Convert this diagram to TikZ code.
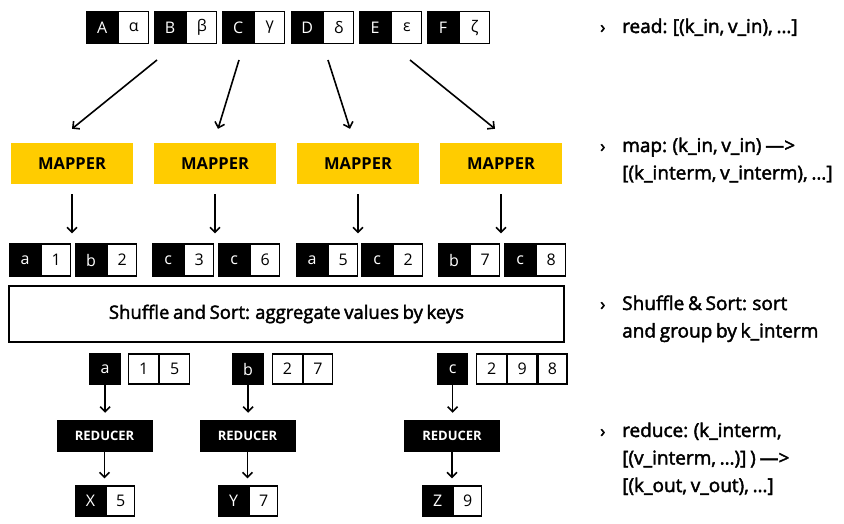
\documentclass[tikz,border=0pt]{standalone}
\usepackage{fontspec}
\setmainfont{Open Sans}
\newfontfamily\medfont{Open Sans}[FakeBold=2.2,WordSpace=0.75]
\usetikzlibrary{arrows.meta,calc}
\definecolor{mapyellow}{HTML}{FFCC00}
\newcommand\kvpair[7]{% name, x, y, key, val, key width, val width
  \node[kcell,minimum width=#6pt] (#1k) at (#2,#3) {#4};
  \node[vcell,minimum width=#7pt] (#1v) at (#1k.east) {#5};
}
\begin{document}
\begin{tikzpicture}[x=1pt,y=-1pt,
  cellfont/.style={font=\fontsize{16}{16}\selectfont},
  kcell/.style={fill=black,draw=black,line width=1.2pt,text=white,inner sep=0pt,
    minimum height=32pt,anchor=west,cellfont},
  vcell/.style={fill=white,draw=black,line width=1.2pt,text=black,inner sep=0pt,
    minimum height=32pt,anchor=west,cellfont},
  mapper/.style={fill=mapyellow,inner sep=0pt,minimum width=122pt,minimum height=41pt,
    font=\bfseries\fontsize{16.5}{16.5}\selectfont},
  reducer/.style={fill=black,text=white,inner sep=0pt,minimum width=96pt,minimum height=32pt,
    font=\bfseries\fontsize{13}{13}\selectfont},
  flow/.style={line width=1.6pt,-{Straight Barb[length=5pt,width=10pt]}},
  note/.style={anchor=base west,inner sep=0pt,font=\medfont\fontsize{19}{19}\selectfont},
  chev/.style={anchor=base west,inner sep=0pt,font=\medfont\fontsize{17}{17}\selectfont},
]
\useasboundingbox[fill=white] (0,0) rectangle (844,524);

% input pairs
\kvpair{A}{86}{27.5}{A}{α}{31}{30}
\kvpair{B}{154}{27.5}{B}{β}{31}{30}
\kvpair{C}{222}{27.5}{C}{γ}{31}{30}
\kvpair{D}{291}{27.5}{D}{δ}{31}{30}
\kvpair{E}{359}{27.5}{E}{ε}{31}{30}
\kvpair{F}{427}{27.5}{F}{ζ}{31}{30}

% mappers
\node[mapper] (m1) at (72,163.5) {MAPPER};
\node[mapper] (m2) at (215,163.5) {MAPPER};
\node[mapper] (m3) at (358,163.5) {MAPPER};
\node[mapper] (m4) at (501,163.5) {MAPPER};

% read arrows
\coordinate (s1) at (157,60);
\coordinate (s2) at (239,60);
\coordinate (s3) at (328,60);
\coordinate (s4) at (410,60);
\draw[flow] (s1) -- ([yshift=14pt]m1.north);
\draw[flow] (s2) -- ([xshift=3pt,yshift=14pt]m2.north);
\draw[flow] (s3) -- ([xshift=-8pt,yshift=14pt]m3.north);
\draw[flow] (s4) -- ([xshift=-6pt,yshift=14pt]m4.north);

% intermediate pairs
\kvpair{p1}{9}{260}{a}{1}{31}{29}
\kvpair{p2}{75}{260}{b}{2}{31}{29}
\kvpair{p3}{152}{260}{c}{3}{31}{29}
\kvpair{p4}{218}{260}{c}{6}{31}{29}
\kvpair{p5}{296}{260}{a}{5}{31}{29}
\kvpair{p6}{361}{260}{c}{2}{31}{29}
\kvpair{p7}{438}{260}{b}{7}{31}{29}
\kvpair{p8}{504}{260}{c}{8}{31}{29}

\draw[flow,shorten <=10pt,shorten >=10pt] (m1.south) -- (m1.south |- p1k.north);
\draw[flow,shorten <=10pt,shorten >=10pt] (m2.south) -- (m2.south |- p3k.north);
\draw[flow,shorten <=10pt,shorten >=10pt] (m3.south) -- (m3.south |- p5k.north);
\draw[flow,shorten <=10pt,shorten >=10pt] (m4.south) -- (m4.south |- p7k.north);

% shuffle
\node[draw=black,line width=1.8pt,fill=white,minimum width=555pt,minimum height=56pt,
  font=\medfont\fontsize{18.5}{18.5}\selectfont] (sh) at (286.5,314)
  {Shuffle and Sort: aggregate values by keys};

% grouped keys
\node[kcell,minimum width=31pt,minimum height=30pt] (ka) at (89,369) {a};
\node[vcell,minimum width=30pt,minimum height=30pt] (va1) at (128,369) {1};
\node[vcell,minimum width=30pt,minimum height=30pt] (va2) at (va1.east) {5};
\node[kcell,minimum width=31pt,minimum height=30pt] (kb) at (232,369) {b};
\node[vcell,minimum width=29.5pt,minimum height=30pt] (vb1) at (272,369) {2};
\node[vcell,minimum width=29.5pt,minimum height=30pt] (vb2) at (vb1.east) {7};
\node[kcell,minimum width=30pt,minimum height=30pt] (kc) at (437,369) {c};
\node[vcell,minimum width=30pt,minimum height=30pt] (vc1) at (476,369) {2};
\node[vcell,minimum width=29pt,minimum height=30pt] (vc2) at (vc1.east) {9};
\node[vcell,minimum width=29pt,minimum height=30pt] (vc3) at (vc2.east) {8};

% reducers
\node[reducer] (r1) at (104.5,436) {REDUCER};
\node[reducer] (r2) at (247.5,436) {REDUCER};
\node[reducer] (r3) at (452,436) {REDUCER};

% outputs
\node[kcell,minimum width=30pt,minimum height=30pt] (xk) at (75,501) {X};
\node[vcell,minimum width=28pt,minimum height=30pt] (xv) at (xk.east) {5};
\node[kcell,minimum width=30pt,minimum height=30pt] (yk) at (218,501) {Y};
\node[vcell,minimum width=28pt,minimum height=30pt] (yv) at (yk.east) {7};
\node[kcell,minimum width=30pt,minimum height=30pt] (zk) at (422,501) {Z};
\node[vcell,minimum width=28pt,minimum height=30pt] (zv) at (zk.east) {9};

\draw[flow,shorten >=7pt] (ka.south) -- (ka.south |- r1.north);
\draw[flow,shorten >=7pt] (kb.south) -- (kb.south |- r2.north);
\draw[flow,shorten >=7pt] (kc.south) -- (kc.south |- r3.north);
\draw[flow,shorten >=7pt] (r1.south) -- (r1.south |- xk.north);
\draw[flow,shorten >=7pt] (r2.south) -- (r2.south |- yk.north);
\draw[flow,shorten >=7pt] (r3.south) -- (r3.south |- zk.north);

% notes
\node[chev] (c1) at (600,33) {›};
\node[note] (n1) at (622,33) {read: [(k\_in, v\_in), …]};
\node[chev] (c2) at (600,152) {›};
\node[note] (n2a) at (622,152) {map: (k\_in, v\_in) —>};
\node[note] (n2b) at (622,179.5) {[(k\_interm, v\_interm), …]};
\node[chev] (c3) at (600,310) {›};
\node[note] (n3a) at (622,310) {Shuffle \& Sort: sort};
\node[note] (n3b) at (622,337.5) {and group by k\_interm};
\node[chev] (c4) at (600,437) {›};
\node[note] (n4a) at (622,437) {reduce: (k\_interm,};
\node[note] (n4b) at (622,464.5) {[(v\_interm, …)] ) —>};
\node[note] (n4c) at (622,492) {[(k\_out, v\_out), …]};
\end{tikzpicture}
\end{document}
